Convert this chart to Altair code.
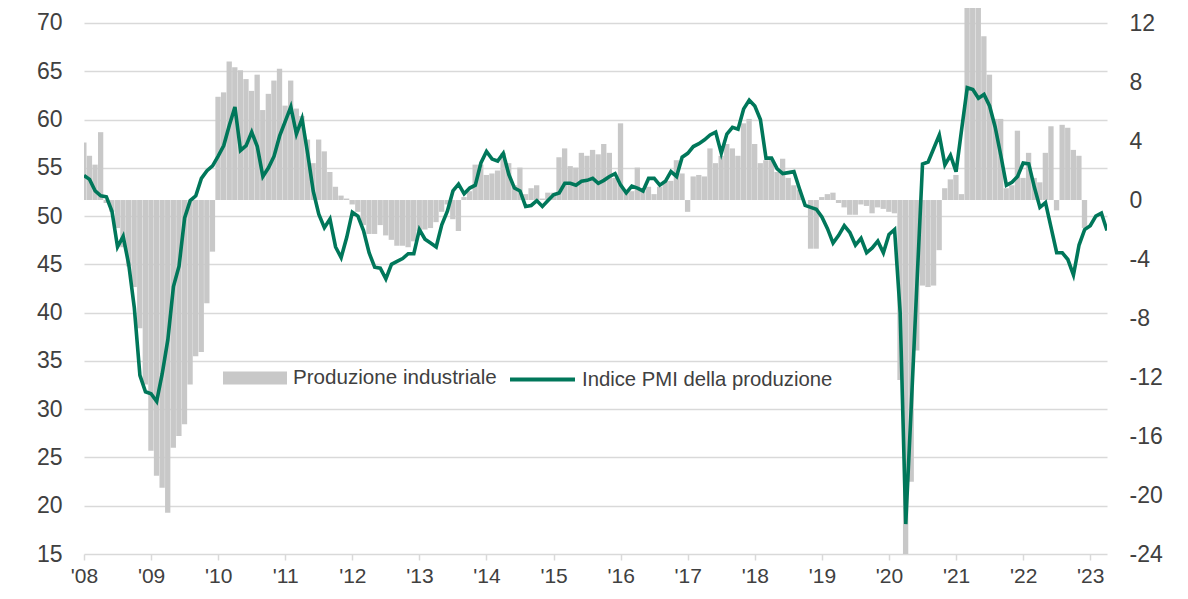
import altair as alt
import pandas as pd

# ---------------- data ----------------
# PMI output index (left axis), monthly Jan-2008 .. Apr-2023
pmi_2008 = [54.2, 53.8, 52.6, 52.1, 52.0, 50.5, 46.8, 47.9, 45.0, 40.5, 33.5, 31.8]
pmi_2009 = [31.6, 30.8, 33.7, 37.2, 42.7, 44.8, 49.8, 51.6, 52.1, 53.9, 54.7, 55.2]
pmi_2010 = [56.2, 57.3, 59.4, 61.3, 56.8, 57.3, 58.7, 57.2, 54.1, 55.0, 56.2, 58.3]
pmi_2011 = [59.8, 61.3, 58.5, 60.1, 56.5, 52.6, 50.2, 48.8, 49.7, 46.8, 45.7, 47.8]
pmi_2012 = [50.4, 50.0, 48.5, 46.2, 44.7, 44.6, 43.5, 45.0, 45.3, 45.6, 46.1, 46.1]
pmi_2013 = [48.6, 47.6, 47.2, 46.8, 49.1, 50.5, 52.6, 53.3, 52.3, 52.9, 53.2, 55.5]
pmi_2014 = [56.7, 55.9, 55.7, 56.5, 54.3, 52.9, 52.6, 51.0, 51.1, 51.6, 51.0, 51.6]
pmi_2015 = [52.2, 52.4, 53.4, 53.4, 53.2, 53.6, 53.7, 53.9, 53.4, 53.7, 54.1, 54.4]
pmi_2016 = [53.2, 52.4, 53.1, 52.9, 52.6, 53.9, 53.9, 53.2, 53.6, 54.6, 54.1, 56.1]
pmi_2017 = [56.5, 57.2, 57.5, 57.9, 58.4, 58.7, 56.5, 58.5, 59.2, 59.0, 61.1, 62.0]
pmi_2018 = [61.4, 60.0, 56.0, 56.0, 54.9, 54.4, 54.5, 54.6, 52.8, 51.1, 50.9, 50.7]
pmi_2019 = [49.9, 48.7, 47.2, 48.0, 49.0, 48.3, 47.0, 47.7, 46.2, 46.7, 47.4, 46.2]
pmi_2020 = [48.1, 48.6, 40.0, 18.1, 30.5, 43.0, 55.4, 55.6, 57.0, 58.4, 55.3, 56.3]
pmi_2021 = [54.6, 59.0, 63.3, 63.1, 62.2, 62.6, 61.4, 59.2, 56.3, 53.2, 53.5, 54.1]
pmi_2022 = [55.5, 55.4, 53.0, 50.9, 51.4, 48.8, 46.2, 46.2, 45.5, 43.9, 47.0, 48.6]
pmi_2023 = [49.0, 50.0, 50.3, 48.5]

# Industrial production, % y/y (right axis), monthly Jan-2008 .. Dec-2022
ip_2008 = [3.9, 3.0, 2.4, 4.6, -0.2, -0.8, -1.9, -3.2, -4.5, -5.9, -8.7, -12.5]
ip_2009 = [-17.0, -18.7, -19.5, -21.2, -16.8, -16.0, -15.2, -12.5, -10.6, -10.3, -7.0, -3.5]
ip_2010 = [7.0, 7.3, 9.4, 9.0, 8.8, 8.2, 7.4, 8.5, 6.1, 7.2, 8.1, 8.9]
ip_2011 = [6.4, 8.1, 6.2, 5.7, 4.1, 2.5, 4.1, 3.3, 1.9, 0.9, 0.3, 0.1]
ip_2012 = [-0.3, -0.8, -1.7, -2.3, -2.3, -1.7, -2.4, -2.7, -3.1, -3.1, -3.2, -2.8]
ip_2013 = [-2.1, -2.0, -1.9, -1.5, -0.8, -0.3, -1.3, -2.1, 0.2, 0.6, 2.4, 2.4]
ip_2014 = [1.7, 1.8, 2.0, 3.2, 2.5, 1.0, 2.2, 0.4, 0.8, 1.0, 0.1, 0.5]
ip_2015 = [0.5, 2.9, 3.5, 2.3, 2.2, 3.2, 3.0, 3.4, 3.1, 3.8, 3.2, 1.5]
ip_2016 = [5.2, 0.6, 0.6, 2.2, 0.6, 0.9, 0.4, 0.9, 1.3, 1.3, 2.7, 1.8]
ip_2017 = [-0.8, 1.6, 1.7, 1.6, 3.5, 2.5, 3.0, 3.8, 3.5, 3.0, 5.2, 5.5]
ip_2018 = [3.8, 2.5, 2.7, 2.8, 1.9, 2.8, 1.5, 1.0, 0.7, 0.0, -3.3, -3.3]
ip_2019 = [0.2, 0.4, 0.5, -0.2, -0.5, -1.0, -1.0, -0.3, -0.4, -0.9, -0.5, -0.6]
ip_2020 = [-0.8, -0.9, -12.2, -24.0, -19.1, -10.2, -5.8, -5.9, -5.8, -3.4, 0.8, 1.4]
ip_2021 = [1.7, 0.4, 14.0, 14.0, 14.0, 11.1, 8.5, 5.5, 5.5, 0.8, 1.0, 4.7]
ip_2022 = [1.5, 3.2, 1.5, 1.2, 3.2, 5.0, -0.7, 5.1, 4.9, 3.4, 3.0, -1.9]

pmi = (pmi_2008 + pmi_2009 + pmi_2010 + pmi_2011 + pmi_2012 + pmi_2013 + pmi_2014
       + pmi_2015 + pmi_2016 + pmi_2017 + pmi_2018 + pmi_2019 + pmi_2020 + pmi_2021
       + pmi_2022 + pmi_2023)
ip = (ip_2008 + ip_2009 + ip_2010 + ip_2011 + ip_2012 + ip_2013 + ip_2014 + ip_2015
      + ip_2016 + ip_2017 + ip_2018 + ip_2019 + ip_2020 + ip_2021 + ip_2022)

year_ticks = list(range(0, 181, 12))          # month index of each January
left_ticks = list(range(15, 71, 5))
right_ticks = list(range(-24, 13, 4))

series_bar = "Produzione industriale"
series_line = "Indice PMI della produzione"

# ---------------- styling ----------------
FONT = "Liberation Sans"
TXT = "#404040"
GRID = "#d9d9d9"
BAR = "#c8c8c8"
GREEN = "#00775a"

df_line = pd.DataFrame({"m": list(range(len(pmi))), "pmi": pmi, "s": series_line})
df_bar = pd.DataFrame({
    "m0": [k - 0.5 for k in range(len(ip))],
    "m1": [k + 0.45 for k in range(len(ip))],
    "ip": ip,
    "s": series_bar,
})

xscale = alt.Scale(domain=[0, 183], nice=False, zero=False)
x_axis = alt.Axis(
    values=year_ticks,
    labelExpr="\"'\" + substring(toString(2008 + datum.value / 12), 2)",
    grid=False, domain=False, ticks=True, tickColor=GRID, tickSize=6, tickWidth=1.5,
    labelFontSize=21, labelFont=FONT, labelColor=TXT, labelPadding=5, title=None,
    labelFlush=False, labelOverlap=False,
)

bars = alt.Chart(df_bar).mark_bar(clip=True).encode(
    x=alt.X("m0:Q", scale=xscale, axis=x_axis),
    x2="m1:Q",
    y=alt.Y(
        "ip:Q",
        scale=alt.Scale(domain=[-24, 13.02], nice=False, zero=False),
        axis=alt.Axis(
            orient="right", values=right_ticks, grid=False, domain=False, ticks=False,
            labelPadding=22, labelFontSize=23, labelFont=FONT, labelColor=TXT,
            labelExpr="'' + datum.value", title=None, labelAlign="left",
        ),
    ),
    y2=alt.datum(0),
    fill=alt.Fill(
        "s:N",
        scale=alt.Scale(domain=[series_bar], range=[BAR]),
        legend=alt.Legend(
            title=None, orient="none", legendX=139, legendY=338,
            symbolType="M-1,-0.2H1V0.2H-1Z", symbolSize=4096, symbolStrokeWidth=0,
            labelFontSize=20.6, labelFont=FONT, labelColor=TXT, labelOffset=6, padding=0,
            labelLimit=0,
        ),
    ),
)

line = alt.Chart(df_line).mark_line(strokeWidth=3.6, clip=True).encode(
    x=alt.X("m:Q", scale=xscale, axis=x_axis),
    y=alt.Y(
        "pmi:Q",
        scale=alt.Scale(domain=[15, 71.55], nice=False, zero=False),
        axis=alt.Axis(
            orient="left", values=left_ticks, grid=True, gridColor=GRID, gridWidth=1.6,
            domain=False, ticks=False, labelPadding=22, labelFontSize=23, labelFont=FONT,
            labelColor=TXT, title=None,
        ),
    ),
    stroke=alt.Stroke(
        "s:N",
        scale=alt.Scale(domain=[series_line], range=[GREEN]),
        legend=alt.Legend(
            title=None, orient="none", legendX=424, legendY=337,
            symbolType="stroke", symbolSize=4225, symbolStrokeWidth=4,
            labelFontSize=20.3, labelFont=FONT, labelColor=TXT, labelOffset=5, padding=0,
            labelLimit=0,
        ),
    ),
)

chart = (
    alt.layer(bars, line)
    .resolve_scale(y="independent")
    .properties(
        width=1023, height=546,
        autosize=alt.AutoSizeParams(type="none"),
        padding={"left": 76, "top": 0, "right": 73, "bottom": 37},
        background="white",
    )
    .configure_view(stroke=None)
)

chart.save("out.html", embed_options={"renderer": "svg", "actions": False})
